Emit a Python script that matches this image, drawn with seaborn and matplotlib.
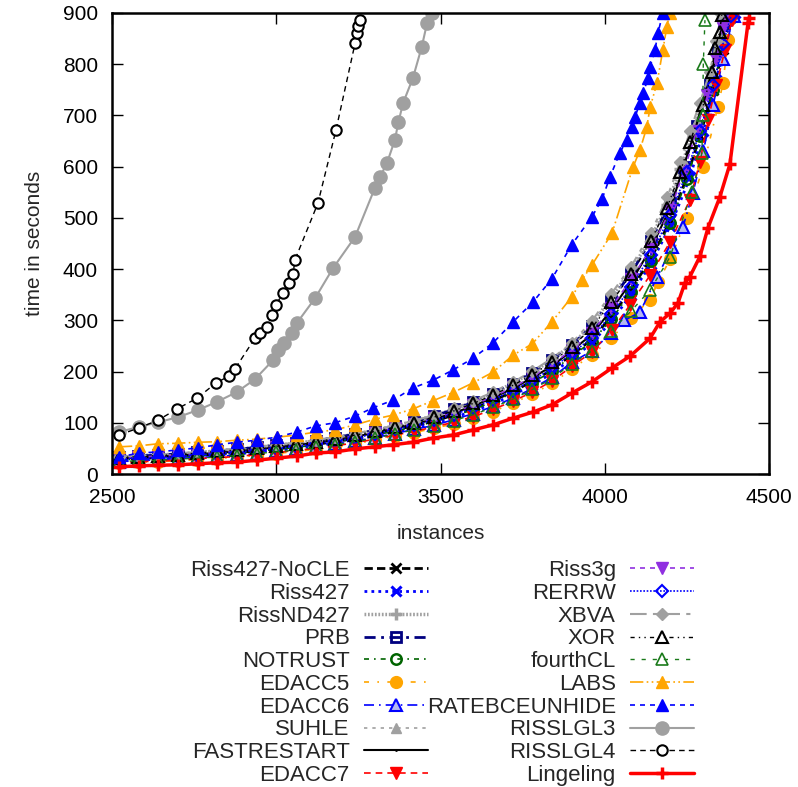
import numpy as np
import matplotlib
matplotlib.use("Agg")
import matplotlib.pyplot as plt
import seaborn as sns

# instances (x) shared by the dense part of the main cluster
X_LOW = [2520, 2580, 2640, 2700, 2760, 2820, 2880, 2940, 3000, 3060, 3120, 3180,
         3240, 3300, 3360, 3420, 3480, 3540, 3600, 3660, 3720, 3780, 3840, 3900]

# cluster solvers: time on X_LOW, then their own tail
riss427_nocle_y = [28, 30, 32, 34, 36, 39, 42, 45, 49, 53, 58, 63, 70, 77, 86, 94, 103, 115, 128, 143, 161, 181, 204, 233]
riss427_nocle_tx = [3960, 4020, 4080, 4140, 4200, 4250, 4290, 4330, 4360, 4380]
riss427_nocle_ty = [262, 308, 360, 420, 495, 580, 660, 750, 830, 890]

riss427_y = [26, 28, 30, 32, 34, 36, 39, 43, 47, 51, 55, 61, 67, 74, 82, 90, 99, 110, 123, 137, 154, 174, 197, 225]
riss427_tx = [3960, 4020, 4080, 4140, 4200, 4260, 4300, 4340, 4370, 4398]
riss427_ty = [255, 298, 350, 410, 485, 580, 670, 770, 850, 900]

rissnd427_y = [33, 36, 37, 39, 42, 45, 48, 52, 56, 60, 65, 71, 78, 85, 94, 103, 114, 126, 141, 158, 177, 199, 223, 253]
rissnd427_tx = [3960, 4020, 4080, 4140, 4190, 4230, 4270, 4310, 4340, 4360, 4372]
rissnd427_ty = [290, 345, 398, 460, 525, 595, 670, 750, 820, 870, 900]

prb_y = [33, 35, 37, 39, 42, 45, 48, 52, 56, 60, 65, 71, 78, 85, 93, 102, 113, 126, 140, 157, 176, 198, 222, 252]
prb_tx = [3960, 4020, 4080, 4140, 4200, 4240, 4280, 4320, 4345, 4362, 4370]
prb_ty = [288, 340, 392, 455, 530, 600, 680, 760, 830, 880, 900]

notrust_y = [27, 30, 31, 33, 36, 38, 41, 44, 48, 52, 57, 62, 69, 76, 84, 92, 102, 113, 126, 141, 158, 178, 201, 230]
notrust_tx = [3960, 4020, 4080, 4140, 4200, 4250, 4290, 4330, 4355, 4372]
notrust_ty = [258, 302, 355, 415, 490, 575, 660, 750, 830, 895]

edacc5_y = [21, 23, 24, 26, 28, 30, 33, 36, 40, 44, 48, 53, 59, 66, 74, 81, 89, 98, 109, 122, 138, 156, 177, 205]
edacc5_tx = [3960, 4020, 4080, 4138, 4162, 4200, 4250, 4300, 4344, 4360, 4375, 4382]
edacc5_ty = [232, 265, 305, 340, 375, 420, 500, 600, 716, 763, 847, 890]

edacc6_y = [24, 26, 28, 30, 32, 34, 37, 40, 44, 48, 52, 58, 64, 71, 79, 87, 95, 106, 118, 132, 148, 167, 189, 218]
edacc6_tx = [3960, 4020, 4060, 4107, 4160, 4205, 4238, 4268, 4300, 4330, 4360, 4392]
edacc6_ty = [240, 275, 300, 316, 385, 443, 482, 548, 630, 720, 810, 895]

suhle_y = [32, 35, 36, 38, 41, 44, 47, 51, 55, 59, 64, 69, 76, 83, 92, 101, 111, 124, 139, 155, 174, 195, 220, 250]
suhle_tx = [3960, 4020, 4080, 4140, 4200, 4240, 4280, 4320, 4350, 4368]
suhle_ty = [287, 338, 395, 458, 535, 610, 690, 770, 850, 900]

fastrestart_y = [30, 32, 34, 36, 39, 41, 44, 48, 52, 56, 61, 66, 73, 80, 89, 97, 107, 119, 133, 149, 167, 188, 211, 241]
fastrestart_tx = [3960, 4020, 4080, 4140, 4200, 4240, 4270, 4300, 4330, 4355, 4365]
fastrestart_ty = [272, 320, 375, 440, 520, 600, 660, 730, 800, 870, 900]

edacc7_y = [22, 24, 25, 27, 30, 32, 34, 38, 42, 46, 50, 55, 61, 68, 76, 83, 92, 101, 112, 126, 142, 160, 182, 210]
edacc7_tx = [3960, 4022, 4077, 4138, 4199, 4259, 4290, 4314, 4340, 4366, 4387]
edacc7_ty = [238, 281, 330, 388, 453, 535, 610, 691, 760, 828, 886]

riss3g_y = [31, 33, 35, 37, 39, 42, 45, 49, 53, 57, 62, 67, 74, 81, 90, 98, 109, 120, 135, 151, 169, 190, 214, 243]
riss3g_tx = [3960, 4020, 4080, 4140, 4200, 4240, 4280, 4310, 4340, 4360, 4368]
riss3g_ty = [275, 325, 380, 440, 515, 590, 670, 740, 810, 870, 900]

rerrw_y = [29, 31, 32, 34, 37, 40, 43, 46, 50, 54, 59, 64, 71, 78, 87, 95, 105, 116, 129, 145, 163, 183, 206, 236]
rerrw_tx = [3960, 4020, 4080, 4140, 4200, 4250, 4290, 4330, 4360, 4385]
rerrw_ty = [265, 312, 365, 428, 505, 590, 670, 760, 840, 895]

xbva_y = [34, 36, 38, 40, 43, 46, 49, 53, 57, 61, 66, 72, 79, 86, 95, 104, 115, 128, 143, 160, 179, 201, 226, 256]
xbva_tx = [3960, 4020, 4080, 4140, 4190, 4230, 4260, 4290, 4320, 4340, 4352]
xbva_ty = [298, 352, 405, 470, 540, 610, 670, 725, 785, 845, 900]

xor_y = [32, 34, 36, 38, 41, 44, 47, 50, 54, 58, 63, 69, 76, 83, 91, 100, 111, 123, 138, 154, 173, 194, 219, 248]
xor_tx = [3960, 4020, 4080, 4140, 4190, 4230, 4259, 4300, 4326, 4335, 4350, 4356]
xor_ty = [285, 335, 390, 455, 520, 590, 648, 720, 785, 831, 863, 896]

fourthcl_y = [24, 26, 27, 29, 31, 33, 36, 40, 43, 47, 52, 57, 63, 70, 78, 86, 94, 104, 116, 130, 146, 165, 187, 215]
fourthcl_tx = [3960, 4020, 4080, 4138, 4199, 4265, 4296, 4298, 4300, 4305]
fourthcl_ty = [240, 280, 318, 359, 424, 551, 627, 700, 800, 886]

# solvers away from the cluster
labs_x = [2521, 2582, 2640, 2701, 2762, 2820, 2880, 2941, 3002, 3063, 3121, 3179, 3240, 3300,
          3355, 3416, 3477, 3538, 3599, 3660, 3721, 3779, 3839, 3900, 3931, 3961, 4022, 4086,
          4107, 4128, 4138, 4159, 4177, 4189, 4198]
labs_y = [53, 55, 59, 60, 62, 63, 66, 68, 72, 76, 82, 86, 96, 107, 115, 127, 143, 159, 178, 199,
          232, 254, 297, 346, 379, 408, 470, 599, 632, 677, 716, 763, 828, 873, 900]

rate_x = [2521, 2582, 2640, 2701, 2762, 2820, 2880, 2941, 3002, 3063, 3121, 3179, 3240, 3294,
          3355, 3416, 3477, 3538, 3599, 3660, 3721, 3782, 3839, 3900, 3961, 3992, 4016, 4046,
          4067, 4083, 4092, 4107, 4117, 4132, 4138, 4153, 4162, 4177]
rate_y = [33, 41, 43, 47, 51, 57, 62, 66, 72, 82, 94, 100, 113, 129, 144, 168, 183, 203, 226, 256,
          297, 336, 381, 448, 502, 537, 580, 627, 652, 677, 697, 724, 744, 773, 795, 828, 861, 900]

risslgl3_x = [2521, 2582, 2640, 2701, 2762, 2820, 2880, 2935, 2990, 3005, 3025, 3048, 3063, 3118,
              3173, 3240, 3300, 3316, 3337, 3361, 3372, 3386, 3416, 3443, 3459, 3474]
risslgl3_y = [82, 92, 101, 111, 125, 141, 160, 185, 222, 242, 256, 275, 295, 343,
              402, 463, 558, 580, 607, 652, 687, 724, 773, 834, 880, 900]

risslgl4_x = [2521, 2582, 2640, 2698, 2759, 2817, 2856, 2874, 2935, 2950, 2971, 2987, 2999, 3020,
              3040, 3051, 3057, 3127, 3182, 3240, 3245, 3250, 3255]
risslgl4_y = [76, 90, 105, 127, 148, 178, 191, 205, 265, 275, 287, 310, 330, 353,
              372, 390, 418, 529, 672, 841, 860, 875, 886]

lingeling_x = [2521, 2582, 2640, 2701, 2762, 2820, 2880, 2941, 3002, 3063, 3121, 3179, 3240, 3300,
               3355, 3416, 3477, 3538, 3599, 3660, 3721, 3782, 3839, 3900, 3961, 4022, 4077, 4138,
               4168, 4199, 4223, 4244, 4259, 4290, 4314, 4350, 4381, 4436, 4438]
lingeling_y = [14, 16, 17, 18, 20, 22, 23, 27, 31, 35, 41, 43, 49, 53, 57, 62, 70, 76, 86, 96,
               109, 121, 135, 158, 180, 207, 230, 265, 297, 314, 334, 373, 385, 425, 480, 540, 605, 880, 890]

GREY = "#a0a0a0"
BLUE = "#0000ff"

# name, x, y, style
series = [
    ("Riss427-NoCLE", X_LOW + riss427_nocle_tx, riss427_nocle_y + riss427_nocle_ty,
     dict(color="black", lw=2, ls=(0, (3, 1.5)), marker="x", ms=7, mew=2, mfc="black", mec="black")),
    ("Riss427", X_LOW + riss427_tx, riss427_y + riss427_ty,
     dict(color=BLUE, lw=2, ls=(0, (1, 1.5)), marker="x", ms=7, mew=2.2, mfc=BLUE, mec=BLUE)),
    ("RissND427", X_LOW + rissnd427_tx, rissnd427_y + rissnd427_ty,
     dict(color=GREY, lw=2.5, ls=(0, (0.5, 0.5)), marker="+", ms=8, mew=2.5, mfc=GREY, mec=GREY)),
    ("PRB", X_LOW + prb_tx, prb_y + prb_ty,
     dict(color="#000080", lw=2, ls=(0, (4, 2, 1, 2)), marker="s", ms=7.5, mew=2, mfc="none", mec="#000080")),
    ("NOTRUST", X_LOW + notrust_tx, notrust_y + notrust_ty,
     dict(color="#006400", lw=1.2, ls=(0, (3, 3, 1, 3)), marker="o", ms=7.5, mew=1.8, mfc="none", mec="#006400")),
    ("EDACC5", X_LOW + edacc5_tx, edacc5_y + edacc5_ty,
     dict(color="#ffa500", lw=1.2, ls=(0, (3, 5, 1, 5)), marker="o", ms=8.5, mew=1, mfc="#ffa500", mec="#ffa500")),
    ("EDACC6", X_LOW + edacc6_tx, edacc6_y + edacc6_ty,
     dict(color=BLUE, lw=1.2, ls=(0, (6, 3, 1, 3)), marker="^", ms=8.5, mew=1.5, mfc="#b4b8f0", mec=BLUE)),
    ("SUHLE", X_LOW + suhle_tx, suhle_y + suhle_ty,
     dict(color=GREY, lw=1.2, ls=(0, (2, 3)), marker="^", ms=7.5, mew=1, mfc=GREY, mec=GREY)),
    ("FASTRESTART", X_LOW + fastrestart_tx, fastrestart_y + fastrestart_ty,
     dict(color="black", lw=1.5, ls="-", marker=".", ms=2, mew=1, mfc="black", mec="black")),
    ("EDACC7", X_LOW + edacc7_tx, edacc7_y + edacc7_ty,
     dict(color="#ff0000", lw=1.2, ls=(0, (4, 3)), marker="v", ms=8.5, mew=1, mfc="#ff0000", mec="#ff0000")),
    ("Riss3g", X_LOW + riss3g_tx, riss3g_y + riss3g_ty,
     dict(color="#9030e0", lw=1.2, ls=(0, (3, 3)), marker="v", ms=8.5, mew=1, mfc="#9030e0", mec="#9030e0")),
    ("RERRW", X_LOW + rerrw_tx, rerrw_y + rerrw_ty,
     dict(color=BLUE, lw=1.2, ls=(0, (1, 1)), marker="D", ms=6.5, mew=1.5, mfc="none", mec=BLUE)),
    ("XBVA", X_LOW + xbva_tx, xbva_y + xbva_ty,
     dict(color=GREY, lw=1.5, ls=(0, (8, 3, 2, 3)), marker="D", ms=6.5, mew=1, mfc=GREY, mec=GREY)),
    ("XOR", X_LOW + xor_tx, xor_y + xor_ty,
     dict(color="black", lw=1, ls=(0, (3, 3, 1, 3, 1, 3)), marker="^", ms=8.5, mew=1.5, mfc="none", mec="black")),
    ("fourthCL", X_LOW + fourthcl_tx, fourthcl_y + fourthcl_ty,
     dict(color="#1a7a1a", lw=1, ls=(0, (3, 5)), marker="^", ms=8.5, mew=1.2, mfc="none", mec="#1a7a1a")),
    ("LABS", labs_x, labs_y,
     dict(color="#ffa500", lw=1.2, ls=(0, (8, 2, 1, 2, 1, 2)), marker="^", ms=8.5, mew=1, mfc="#ffa500", mec="#ffa500")),
    ("RATEBCEUNHIDE", rate_x, rate_y,
     dict(color=BLUE, lw=1.2, ls=(0, (3, 3)), marker="^", ms=8.5, mew=1, mfc=BLUE, mec=BLUE)),
    ("RISSLGL3", risslgl3_x, risslgl3_y,
     dict(color=GREY, lw=1.5, ls="-", marker="o", ms=9.5, mew=1, mfc=GREY, mec=GREY)),
    ("RISSLGL4", risslgl4_x, risslgl4_y,
     dict(color="black", lw=1, ls=(0, (4, 3)), marker="o", ms=7.5, mew=1.5, mfc="white", mec="black")),
    ("Lingeling", lingeling_x, lingeling_y,
     dict(color="#ff0000", lw=2.5, ls="-", marker="+", ms=9, mew=2.5, mfc="#ff0000", mec="#ff0000")),
]

sns.set_theme(context="notebook", style="ticks")
plt.rcParams["font.family"] = ["Liberation Sans", "DejaVu Sans"]
plt.rcParams["axes.edgecolor"] = "black"

fig = plt.figure(figsize=(7.98, 7.87), dpi=100)
ax = fig.add_axes([112 / 798, 1 - 474 / 787, 657 / 798, 461 / 787])

handles = []
for name, xs, ys, st in series:
    sns.lineplot(x=xs, y=ys, ax=ax, sort=False, estimator=None, legend=False,
                 color=st["color"], linewidth=st["lw"], linestyle=st["ls"],
                 marker=st["marker"], markersize=st["ms"], markeredgewidth=st["mew"],
                 markerfacecolor=st["mfc"], markeredgecolor=st["mec"], label=name)
    handles.append(ax.lines[-1])

ax.set_xlim(2500, 4500)
ax.set_ylim(0, 900)
ax.set_xticks([2500, 3000, 3500, 4000, 4500])
ax.set_yticks(range(0, 901, 100))
ax.tick_params(direction="in", top=True, right=True, length=8, width=1,
               labelsize=15, colors="black", pad=10)
for sp in ax.spines.values():
    sp.set_linewidth(1.8)
    sp.set_color("black")
ax.set_xlabel("instances", fontsize=15, labelpad=12)
ax.set_ylabel("time in seconds", fontsize=15, labelpad=14)

names = [s[0] for s in series]
leg_kw = dict(frameon=False, markerfirst=False, loc="upper right", fontsize=16,
              handlelength=2.9, handletextpad=0.62, labelspacing=0.08,
              borderpad=0, borderaxespad=0, bbox_transform=fig.transFigure)
leg1 = fig.legend(handles[:10], names[:10], bbox_to_anchor=(428 / 798, 1 - 560 / 787), **leg_kw)
leg2 = fig.legend(handles[10:], names[10:], bbox_to_anchor=(694 / 798, 1 - 560 / 787), **leg_kw)

fig.savefig("out.png", dpi=100)
